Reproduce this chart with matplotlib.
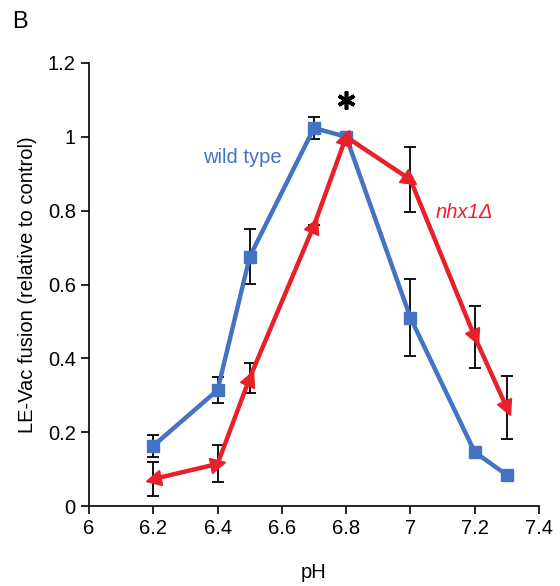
import numpy as np
import matplotlib
matplotlib.use("Agg")
import matplotlib.pyplot as plt
from matplotlib.markers import MarkerStyle
from matplotlib.transforms import Affine2D

plt.rcParams['font.family'] = ['Liberation Sans', 'DejaVu Sans']

# data
ph_wt = [6.2, 6.4, 6.5, 6.7, 6.8, 7.0, 7.2, 7.3]
fusion_wt = [0.163, 0.314, 0.675, 1.024, 1.0, 0.51, 0.146, 0.084]
err_wt = [0.03, 0.035, 0.075, 0.03, 0.0, 0.105, 0.0, 0.0]

ph_nhx = [6.2, 6.4, 6.5, 6.7, 6.8, 7.0, 7.2, 7.3]
fusion_nhx = [0.073, 0.114, 0.347, 0.76, 1.0, 0.884, 0.458, 0.266]
err_nhx = [0.045, 0.05, 0.04, 0.0, 0.0, 0.088, 0.083, 0.085]

xticks = [6, 6.2, 6.4, 6.6, 6.8, 7, 7.2, 7.4]
xticklabels = ['6', '6.2', '6.4', '6.6', '6.8', '7', '7.2', '7.4']
yticks = [0, 0.2, 0.4, 0.6, 0.8, 1.0, 1.2]
yticklabels = ['0', '0.2', '0.4', '0.6', '0.8', '1', '1.2']

blue = '#4472c4'
red = '#e8202a'

fig = plt.figure(figsize=(5.6, 5.86), dpi=100)
ax = fig.add_axes([89/560, 1 - 506/586, 450/560, 443/586])

# error bars
ax.errorbar(ph_wt, fusion_wt, yerr=err_wt, fmt='none', ecolor='black',
            elinewidth=1.3, capsize=4, capthick=1.3, zorder=1)
ax.errorbar(ph_nhx, fusion_nhx, yerr=err_nhx, fmt='none', ecolor='black',
            elinewidth=1.3, capsize=4, capthick=1.3, zorder=1)

# lines
ax.plot(ph_wt, fusion_wt, color=blue, lw=3.2, marker='s', markersize=9,
        zorder=3)
ax.plot(ph_nhx, fusion_nhx, color=red, lw=3.2, zorder=4)

ax.set_xlim(6, 7.4)
ax.set_ylim(0, 1.2)

# red arrowhead markers pointing along the line
pts = ax.transData.transform(np.column_stack([ph_nhx, fusion_nhx]))
for i in range(len(ph_nhx)):
    if i == 0:
        d = pts[0] - pts[1]
    else:
        d = pts[i] - pts[i - 1]
    ang = np.degrees(np.arctan2(d[1], d[0]))
    m = MarkerStyle('^', transform=Affine2D().rotate_deg(ang - 90))
    ax.plot(ph_nhx[i], fusion_nhx[i], marker=m, color=red, markersize=11,
            linestyle='none', zorder=5)

ax.set_xticks(xticks)
ax.set_xticklabels(xticklabels)
ax.set_yticks(yticks)
ax.set_yticklabels(yticklabels)
ax.tick_params(labelsize=14.5, direction='out', length=6, width=1.2)
ax.spines['top'].set_visible(False)
ax.spines['right'].set_visible(False)
ax.spines['left'].set_linewidth(1.2)
ax.spines['bottom'].set_linewidth(1.2)

ax.set_xlabel('pH', fontsize=14.5, labelpad=18)
ax.set_ylabel('LE-Vac fusion (relative to control)', fontsize=14.5,
              labelpad=8)

ax.text(6.355, 0.93, 'wild type', color=blue, fontsize=14.5)
ax.text(7.078, 0.78, 'nhx1Δ', color=red, fontsize=14.5, style='italic')
# asterisk above the pH 6.8 point
ax.plot([6.8], [1.1], marker=(6, 2, 0), markersize=13, mew=2.6,
        color='black', linestyle='none')

fig.text(12/560, 1 - 28/586, 'B', fontsize=17)

plt.savefig('out.png', dpi=100)
